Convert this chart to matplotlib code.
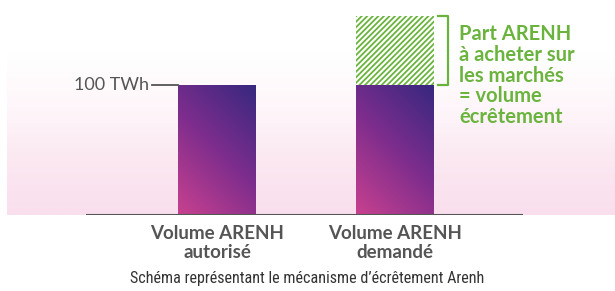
import numpy as np
import matplotlib.pyplot as plt
from matplotlib.colors import LinearSegmentedColormap

# Données (TWh)
categories = ['Volume ARENH\nautorisé', 'Volume ARENH\ndemandé']
volume_autorise = 100
volume_demande = 153
ecretement = volume_demande - volume_autorise
ref_label = '100 TWh'
note = 'Part ARENH\nà acheter sur\nles marchés\n= volume\nécrêtement'
caption = 'Schéma représentant le mécanisme d’écrêtement Arenh'

GREY = '#555555'
GREEN = '#6ab43e'

plt.rcParams['font.family'] = ['Lato', 'DejaVu Sans']
plt.rcParams['hatch.linewidth'] = 1.3

fig = plt.figure(figsize=(6.15, 2.91), dpi=100)
ax = fig.add_axes([0, 76 / 291, 1, 215 / 291])
ax.set_xlim(-1.219, 2.236)
ax.set_ylim(0, 165.4)
ax.axis('off')

# fond dégradé blanc -> rose
bg = LinearSegmentedColormap.from_list('bg', ['#f9dfed', '#fbe8f1', '#fef6fa', '#ffffff', '#ffffff'])
grad = np.linspace(0, 1, 200).reshape(-1, 1)
ax.imshow(grad, cmap=bg, aspect='auto', extent=(-1.180, 2.236, 0, 165.4),
          origin='lower', zorder=0)

# barres avec dégradé diagonal (~45° à l'écran)
bar_cmap = LinearSegmentedColormap.from_list('bar', ['#c8418f', '#7e2d8d', '#37287f'])
xx, yy = np.meshgrid(np.linspace(0, 1, 100), np.linspace(0, 1, 100))
diag = xx * 78 + yy * 130
width = 0.438
x = np.arange(len(categories))
bars = ax.bar(x, [volume_autorise, volume_autorise], width=width, color='none', zorder=2)
for b in bars:
    x0, y0 = b.get_x(), b.get_y()
    im = ax.imshow(diag, cmap=bar_cmap, origin='lower', aspect='auto',
                   extent=(x0, x0 + b.get_width(), y0, y0 + b.get_height()), zorder=2)
    im.set_clip_path(b)

# part écrêtée hachurée
ax.bar(x[1], ecretement, bottom=volume_autorise, width=width, color='white',
       edgecolor=GREEN, hatch='//////', linewidth=0, zorder=2)

# ligne de base
ax.plot([-0.735, 1.720], [0, 0], color=GREY, lw=1.5, zorder=3, solid_capstyle='butt')

# repère 100 TWh
ax.plot([-0.365, x[0] - width / 2], [volume_autorise, volume_autorise], color=GREY, lw=1.3, zorder=3)
ax.text(-0.38, volume_autorise, ref_label, ha='right', va='center', fontsize=13, color=GREY)

# accolade
bx0 = x[1] + width / 2 + 0.02
bx1 = bx0 + 0.06
ax.plot([bx0, bx1, bx1, bx0], [volume_demande, volume_demande, volume_autorise, volume_autorise],
        color=GREEN, lw=1.6, zorder=3)
ax.text(bx1 + 0.06, volume_demande - 6, note, ha='left', va='top', fontsize=14.5,
        fontweight='bold', color=GREEN, linespacing=1.05)

# étiquettes des catégories
for xi, lab in zip(x, categories):
    ax.text(xi, -8, lab, ha='center', va='top', fontsize=13.5, fontweight='bold',
            color=GREY, linespacing=1.12)

fig.text(0.5, 0.042, caption, ha='center', va='center', fontsize=11.6, color='#333333',
         family=['Roboto Condensed', 'Open Sans Condensed', 'DejaVu Sans'], fontstretch='condensed')

fig.savefig('out.png', dpi=100)
